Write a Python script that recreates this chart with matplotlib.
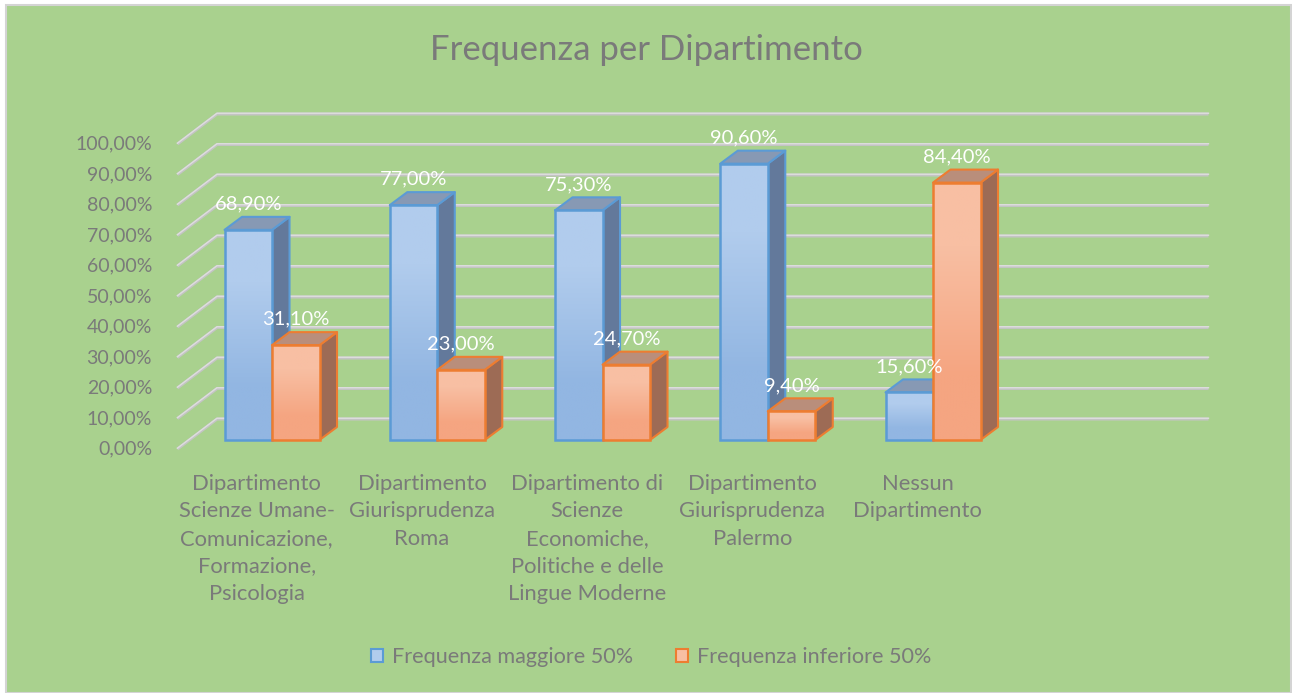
import numpy as np
import matplotlib.pyplot as plt
from matplotlib.patches import Polygon, Rectangle, Patch
from matplotlib.colors import to_rgb

# data
categories = [
    "Dipartimento\nScienze Umane-\nComunicazione,\nFormazione,\nPsicologia",
    "Dipartimento\nGiurisprudenza\nRoma",
    "Dipartimento di\nScienze\nEconomiche,\nPolitiche e delle\nLingue Moderne",
    "Dipartimento\nGiurisprudenza\nPalermo",
    "Nessun\nDipartimento",
]
maggiore = [68.9, 77.0, 75.3, 90.6, 15.6]
inferiore = [31.1, 23.0, 24.7, 9.4, 84.4]
series_names = ["Frequenza maggiore 50%", "Frequenza inferiore 50%"]
y_ticks = [0, 10, 20, 30, 40, 50, 60, 70, 80, 90, 100]
title = "Frequenza per Dipartimento"

plt.rcParams['font.family'] = ['Lato', 'DejaVu Sans']
TXT = '#7a7a7a'

W, H = 1292, 693
fig = plt.figure(figsize=(W / 100, H / 100), dpi=100, facecolor='white')
ax = fig.add_axes([0, 0, 1, 1])
ax.axis('off')

# pixel layout of the fake 3d plot
X0_PX, CAT_PX, Y0_PX, PCT_PX = 189.4, 165.25, 440, 3.05
BAR_W = 47.5 / CAT_PX
DX, DY = 17.5 / CAT_PX, 13 / PCT_PX          # bar depth
WX, WY = 27.6 / CAT_PX, 21 / PCT_PX          # back wall
FX, FY = -12 / CAT_PX, -9 / PCT_PX           # front edge of floor
n_slots = len(categories) + 1

styles = [
    dict(top_c='#b1cced', bot_c='#92b6e2', side='#63799b', lid='#8799b4', edge='#5b9bd5'),
    dict(top_c='#f8bfa3', bot_c='#f5a581', side='#9d6b55', lid='#b98e7b', edge='#ed7d31'),
]

# chart background with thin border
ax.add_patch(Rectangle((6 / W, 0), (1291 - 6) / W, (H - 5) / H, transform=ax.transAxes,
                       fc='#a9d18e', ec='#d4d4d4', lw=1.5, zorder=0))

# gridlines: diagonal on the side wall + horizontal on back wall
for v in y_ticks:
    ax.plot([FX, WX, n_slots + WX], [v + FY, v + WY, v + WY], color='#c4c4c4', lw=2.2,
            solid_capstyle='butt', zorder=1)
    ax.plot([FX, WX, n_slots + WX], [v + FY + 0.25, v + WY + 0.25, v + WY + 0.25],
            color='#dedede', lw=1, zorder=1.1)
    ax.text(-0.226, v + FY, f"{v:.2f}%".replace('.', ','), ha='right', va='center',
            fontsize=14, color=TXT)


def draw_bar(x0, h, st, z):
    side = [(x0 + BAR_W, 0), (x0 + BAR_W + DX, DY), (x0 + BAR_W + DX, h + DY), (x0 + BAR_W, h)]
    lid = [(x0, h), (x0 + DX, h + DY), (x0 + BAR_W + DX, h + DY), (x0 + BAR_W, h)]
    ax.add_patch(Polygon(side, fc=st['side'], ec=st['edge'], lw=1.5, joinstyle='round', zorder=z))
    ax.add_patch(Polygon(lid, fc=st['lid'], ec=st['edge'], lw=1.5, joinstyle='round', zorder=z))
    front = Rectangle((x0, 0), BAR_W, h, fc='none', ec=st['edge'], lw=1.8, zorder=z + 0.2)
    ax.add_patch(front)
    grad = np.array([[to_rgb(st['top_c'])], [to_rgb(st['bot_c'])]])
    im = ax.imshow(grad, extent=(x0, x0 + BAR_W, 0, h), origin='upper', aspect='auto',
                   interpolation='bilinear', zorder=z + 0.1)
    im.set_clip_path(front)


z = 2
for i, cat in enumerate(categories):
    centre = i + 0.5
    for k, vals in enumerate([maggiore, inferiore]):
        x0 = centre - BAR_W + k * BAR_W
        draw_bar(x0, vals[i], styles[k], z)
        z += 1
        ax.text(x0 + BAR_W / 2, vals[i] + 8.5, f"{vals[i]:.2f}%".replace('.', ','),
                ha='center', va='center', color='white', fontsize=14.5, zorder=50)
    ax.text(centre + FX - 0.02, -11.0, cat, ha='center', va='top', color=TXT, fontsize=15.8,
            linespacing=1.48, zorder=50)

ax.set_xlim(-X0_PX / CAT_PX, (W - X0_PX) / CAT_PX)
ax.set_ylim((Y0_PX - H) / PCT_PX, Y0_PX / PCT_PX)

fig.text(0.5, 1 - 50 / H, title, ha='center', va='center', fontsize=25, color=TXT)

handles = [Patch(fc=st['top_c'], ec=st['edge'], lw=1.5) for st in styles]
fig.legend(handles, series_names, loc='center', bbox_to_anchor=(651 / W, 1 - 657 / H), ncol=2,
           frameon=False, fontsize=15.6, labelcolor=TXT, handlelength=0.55, handleheight=0.55,
           handletextpad=0.4, columnspacing=2.0)

fig.savefig('out.png', dpi=100, facecolor='white')
